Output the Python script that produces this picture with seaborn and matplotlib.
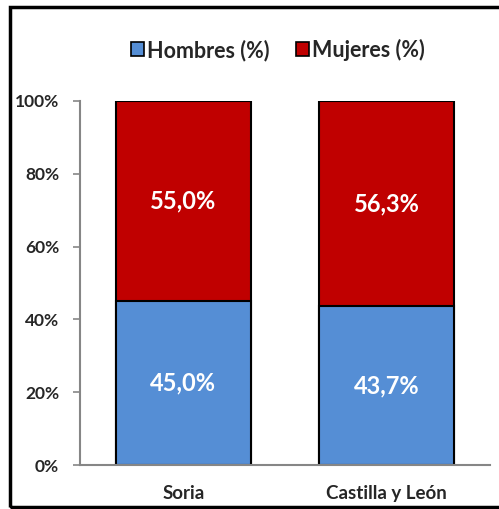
import pandas as pd
import matplotlib.pyplot as plt
import seaborn as sns
from matplotlib.patches import Rectangle, Patch

# data
regiones = ["Soria", "Castilla y León"]
hombres = [45.0, 43.7]
mujeres = [55.0, 56.3]
yticks = [0, 20, 40, 60, 80, 100]

df = pd.DataFrame({"region": regiones, "hombres": hombres, "mujeres": mujeres})
df["total"] = df["hombres"] + df["mujeres"]

sns.set_style("white")
plt.rcParams["font.family"] = ["Lato", "DejaVu Sans"]
plt.rcParams["font.weight"] = "bold"

azul = "#558ED5"
rojo = "#C00000"
grey = "#868686"

fig = plt.figure(figsize=(4.99, 5.09), dpi=100)
ax = fig.add_axes([0.160, 0.0864, 0.822, 0.7152])

# stacked bars: total (red) then men (blue) on top
sns.barplot(data=df, x="region", y="total", color=rojo, width=0.665,
            edgecolor="black", linewidth=1.5, saturation=1, ax=ax)
sns.barplot(data=df, x="region", y="hombres", color=azul, width=0.665,
            edgecolor="black", linewidth=1.5, saturation=1, ax=ax)

for i, (h, m) in enumerate(zip(hombres, mujeres)):
    ax.text(i, h / 2, f"{h:.1f}%".replace(".", ","), ha="center", va="center",
            color="white", fontsize=17, fontweight="bold")
    ax.text(i, h + m / 2, f"{m:.1f}%".replace(".", ","), ha="center", va="center",
            color="white", fontsize=17, fontweight="bold")

ax.set_xlim(-0.51, 1.51)
ax.set_ylim(0, 100)
ax.set_yticks(yticks)
ax.set_yticklabels([f"{v}%" for v in yticks], fontsize=12.5, fontweight="bold")
ax.set_xticks(range(len(regiones)))
ax.set_xticklabels(regiones, fontsize=13.5, fontweight="bold")
ax.set_xlabel("")
ax.set_ylabel("")

for s in ["top", "right"]:
    ax.spines[s].set_visible(False)
for s in ["left", "bottom"]:
    ax.spines[s].set_color(grey)
    ax.spines[s].set_linewidth(1.5)
ax.tick_params(axis="y", left=True, length=5, width=1.2, color=grey, pad=10)
ax.tick_params(axis="x", bottom=False, pad=11)

handles = [Patch(facecolor=azul, edgecolor="black", linewidth=1.2),
           Patch(facecolor=rojo, edgecolor="black", linewidth=1.2)]
fig.legend(handles, ["Hombres (%)", "Mujeres (%)"], loc="center",
           bbox_to_anchor=(0.557, 0.902), ncol=2, frameon=False,
           prop={"size": 15.5, "weight": "bold"}, handlelength=0.6,
           handleheight=0.6, handletextpad=0.15, columnspacing=1.2)

# outer frame
fig.patches.append(Rectangle((10 / 499, 2 / 509), 1.0, 1 - 9 / 509,
                             transform=fig.transFigure, fill=False,
                             edgecolor="black", linewidth=2.5))

fig.savefig("out.png", dpi=100)
